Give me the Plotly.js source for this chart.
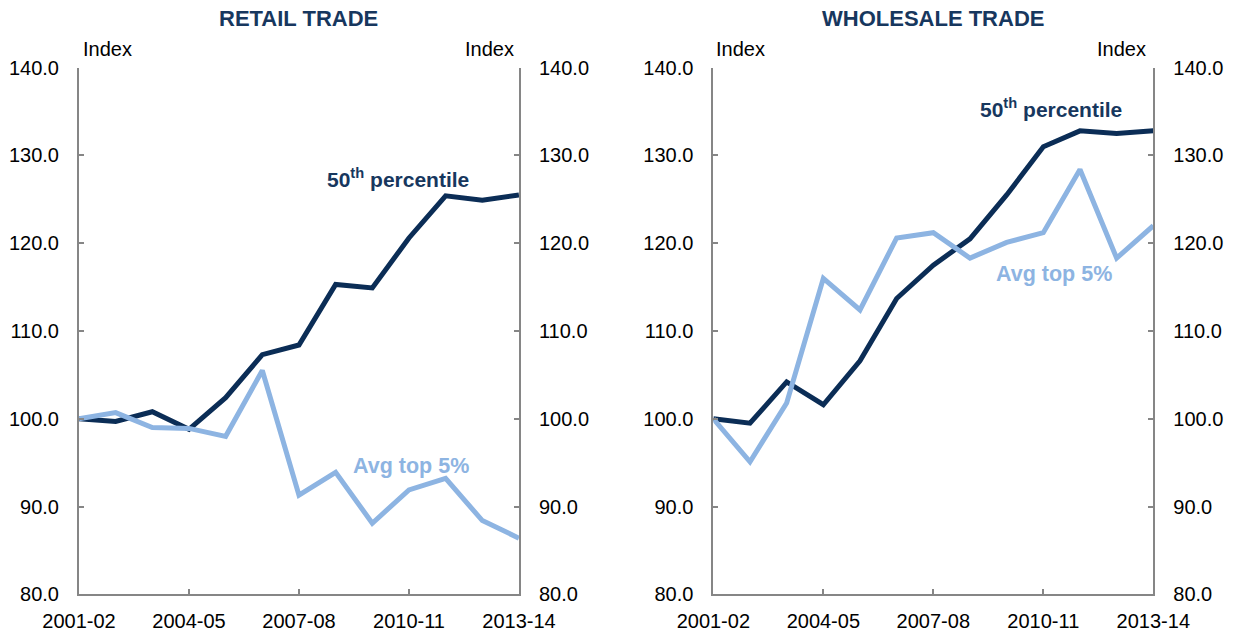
<!DOCTYPE html>
<html>
<head>
<meta charset="utf-8">
<script src="https://cdn.plot.ly/plotly-3.0.1.min.js"></script>
<style>
  html, body { margin: 0; padding: 0; background: #ffffff; }
  #chart { width: 1238px; height: 633px; }
</style>
</head>
<body>
<div id="chart"></div>
<script>
// ---- Data ----
const years = ["2001-02","2002-03","2003-04","2004-05","2005-06","2006-07","2007-08",
               "2008-09","2009-10","2010-11","2011-12","2012-13","2013-14"];
const tickYears = ["2001-02","2004-05","2007-08","2010-11","2013-14"];

const retailMedian = [100.0, 99.7, 100.8, 98.8, 102.4, 107.3, 108.4, 115.3, 114.9, 120.6, 125.4, 124.9, 125.5];
const retailTop5   = [100.0, 100.7, 99.0, 98.9, 98.0, 105.5, 91.3, 93.9, 88.1, 91.9, 93.2, 88.4, 86.4];

const wholesaleMedian = [100.0, 99.5, 104.2, 101.6, 106.6, 113.7, 117.5, 120.5, 125.5, 131.0, 132.8, 132.5, 132.8];
const wholesaleTop5   = [100.0, 95.1, 101.8, 116.0, 112.4, 120.6, 121.2, 118.3, 120.1, 121.2, 128.4, 118.3, 122.0];

const panelTitles = ["RETAIL TRADE", "WHOLESALE TRADE"];
const medianLabel = "50<sup>th</sup> percentile";
const top5Label = "Avg top 5%";
const unitLabel = "Index";

// ---- Styles ----
const navyLine = "#0B2D56";
const lightLine = "#8DB4E2";
const navyText = "#17375E";
const axisGray = "#868686";
const FONT = "Liberation Sans, Arial, sans-serif";

const traces = [
  { x: years, y: retailMedian, xaxis: "x", yaxis: "y", type: "scatter", mode: "lines",
    line: { color: navyLine, width: 5 }, name: "50th percentile", hoverinfo: "skip" },
  { x: years, y: retailTop5, xaxis: "x", yaxis: "y2", type: "scatter", mode: "lines",
    line: { color: lightLine, width: 5 }, name: "Avg top 5%", hoverinfo: "skip" },
  { x: years, y: wholesaleMedian, xaxis: "x2", yaxis: "y3", type: "scatter", mode: "lines",
    line: { color: navyLine, width: 5 }, name: "50th percentile", hoverinfo: "skip" },
  { x: years, y: wholesaleTop5, xaxis: "x2", yaxis: "y4", type: "scatter", mode: "lines",
    line: { color: lightLine, width: 5 }, name: "Avg top 5%", hoverinfo: "skip" }
];

const yDomain = [0.0611, 0.8931];
function yAx(extra) {
  return Object.assign({
    domain: yDomain, range: [80, 140], dtick: 10, tick0: 80, tickformat: ".1f",
    ticks: "inside", ticklen: 5, tickwidth: 2, tickcolor: axisGray,
    showline: true, linecolor: axisGray, linewidth: 2,
    showgrid: false, zeroline: false, fixedrange: true,
    ticklabelstandoff: 14,
    tickfont: { family: FONT, size: 20, color: "#000000" }
  }, extra);
}
function xAx(extra) {
  return Object.assign({
    type: "category", range: [0, years.length - 1],
    tickmode: "array", tickvals: tickYears, ticktext: tickYears,
    ticks: "inside", ticklen: 5, tickwidth: 2, tickcolor: axisGray,
    showline: true, linecolor: axisGray, linewidth: 2,
    showgrid: false, zeroline: false, fixedrange: true,
    ticklabelstandoff: 8,
    tickfont: { family: FONT, size: 20, color: "#000000" }
  }, extra);
}

const layout = {
  width: 1238, height: 633,
  margin: { l: 0, r: 0, t: 0, b: 0 },
  paper_bgcolor: "#ffffff", plot_bgcolor: "rgba(0,0,0,0)",
  showlegend: false,
  font: { family: FONT, size: 20, color: "#000000" },
  xaxis: xAx({ domain: [0.0638, 0.4192], anchor: "y" }),
  xaxis2: xAx({ domain: [0.5762, 0.9316], anchor: "y3" }),
  yaxis: yAx({ anchor: "x", side: "left" }),
  yaxis2: yAx({ anchor: "x", side: "right", overlaying: "y" }),
  yaxis3: yAx({ anchor: "x2", side: "left" }),
  yaxis4: yAx({ anchor: "x2", side: "right", overlaying: "y3" }),
  annotations: [
    { text: "<b>" + panelTitles[0] + "</b>", xref: "paper", yref: "paper", x: 0.2415, y: 0.970,
      xanchor: "center", yanchor: "middle", showarrow: false, font: { family: FONT, size: 22, color: navyText } },
    { text: "<b>" + panelTitles[1] + "</b>", xref: "paper", yref: "paper", x: 0.7537, y: 0.970,
      xanchor: "center", yanchor: "middle", showarrow: false, font: { family: FONT, size: 22, color: navyText } },
    // unit labels
    { text: unitLabel, xref: "paper", yref: "paper", x: 0.0655, y: 0.923, xanchor: "left", yanchor: "middle",
      showarrow: false, font: { family: FONT, size: 20, color: "#000000" } },
    { text: unitLabel, xref: "paper", yref: "paper", x: 0.4165, y: 0.923, xanchor: "right", yanchor: "middle",
      showarrow: false, font: { family: FONT, size: 20, color: "#000000" } },
    { text: unitLabel, xref: "paper", yref: "paper", x: 0.5770, y: 0.923, xanchor: "left", yanchor: "middle",
      showarrow: false, font: { family: FONT, size: 20, color: "#000000" } },
    { text: unitLabel, xref: "paper", yref: "paper", x: 0.9275, y: 0.923, xanchor: "right", yanchor: "middle",
      showarrow: false, font: { family: FONT, size: 20, color: "#000000" } },
    // series labels
    { text: "<b>" + medianLabel + "</b>", xref: "x", yref: "y", x: 8.7, y: 127.4, xanchor: "center", yanchor: "middle",
      showarrow: false, font: { family: FONT, size: 21, color: navyText } },
    { text: "<b>" + top5Label + "</b>", xref: "x", yref: "y", x: 9.05, y: 94.6, xanchor: "center", yanchor: "middle",
      showarrow: false, font: { family: FONT, size: 21.5, color: lightLine } },
    { text: "<b>" + medianLabel + "</b>", xref: "x2", yref: "y3", x: 9.21, y: 135.4, xanchor: "center", yanchor: "middle",
      showarrow: false, font: { family: FONT, size: 21, color: navyText } },
    { text: "<b>" + top5Label + "</b>", xref: "x2", yref: "y3", x: 9.29, y: 116.5, xanchor: "center", yanchor: "middle",
      showarrow: false, font: { family: FONT, size: 21.5, color: lightLine } }
  ]
};

Plotly.newPlot("chart", traces, layout, { staticPlot: true, displayModeBar: false });
</script>
</body>
</html>
